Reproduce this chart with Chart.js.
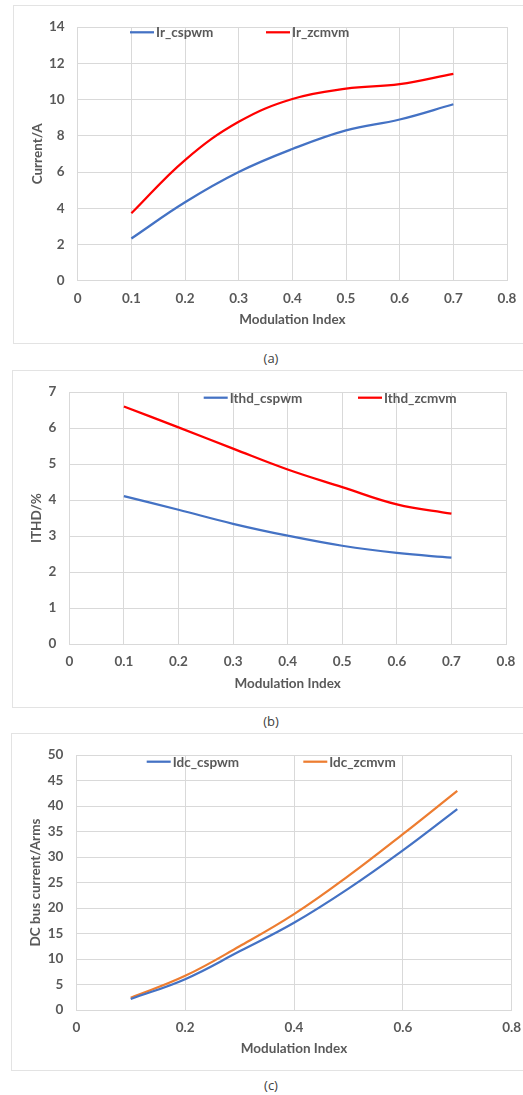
<!DOCTYPE html>
<html>
<head>
<meta charset="utf-8">
<script src="https://cdn.jsdelivr.net/npm/chart.js@4.4.1/dist/chart.umd.min.js"></script>
<style>
  html, body { margin: 0; padding: 0; background: #fff; width: 523px; height: 1095px; overflow: hidden; }
  .box { position: absolute; border: 1px solid #e3e3e3; width: 520px; }
  .box canvas { display: block; }
  .cap { position: absolute; width: 60px; margin-left: -30px; text-align: center;
         font: 13px "Open Sans", sans-serif; color: #404040; }
</style>
</head>
<body>
<div class="box" style="left:13px; top:5px;"><canvas id="chartA" width="520" height="337"></canvas></div>
<div class="cap" style="left:271px; top:349px;">(a)</div>
<div class="box" style="left:12px; top:370px;"><canvas id="chartB" width="520" height="336"></canvas></div>
<div class="cap" style="left:271px; top:712px;">(b)</div>
<div class="box" style="left:11px; top:733px;"><canvas id="chartC" width="520" height="336"></canvas></div>
<div class="cap" style="left:271px; top:1076px;">(c)</div>
<script>
// modulation index samples
const modIndex = [0.1, 0.2, 0.3, 0.4, 0.5, 0.6, 0.7];

// (a) phase current
const irCspwm = [2.33, 4.33, 6.0, 7.27, 8.3, 8.9, 9.74];
const irZcmvm = [3.72, 6.66, 8.77, 10.03, 10.6, 10.85, 11.42];

// (b) current THD
const ithdCspwm = [4.11, 3.73, 3.34, 3.01, 2.73, 2.53, 2.40];
const ithdZcmvm = [6.6, 6.02, 5.43, 4.85, 4.36, 3.88, 3.62];

// (c) DC bus current
const idcCspwm = [2.17, 6.05, 11.5, 17.1, 23.8, 31.3, 39.4];
const idcZcmvm = [2.4, 6.7, 12.5, 18.8, 26.3, 34.5, 43.0];

// tick labels
const xTicksAB = [0, 0.1, 0.2, 0.3, 0.4, 0.5, 0.6, 0.7, 0.8];
const xTicksC = [0, 0.2, 0.4, 0.6, 0.8];
const yTicksA = [0, 2, 4, 6, 8, 10, 12, 14];
const yTicksB = [0, 1, 2, 3, 4, 5, 6, 7];
const yTicksC = [0, 5, 10, 15, 20, 25, 30, 35, 40, 45, 50];

const BLUE = '#4472c4';
const RED = '#ff0000';
const ORANGE = '#ed7d31';
const TEXT = '#595959';
const GRID = '#d9d9d9';
const FONT = { family: "Lato, sans-serif", size: 13.5, weight: 'bold' };

// Excel-style legend drawn inside the plot area
const insideLegend = {
    id: 'insideLegend',
    afterDraw(chart, args, opts) {
        const ctx = chart.ctx;
        ctx.save();
        ctx.font = 'bold 13.5px Lato, sans-serif';
        ctx.fillStyle = TEXT;
        ctx.textBaseline = 'middle';
        chart.data.datasets.forEach((ds, i) => {
            const x = opts.x[i];
            ctx.strokeStyle = ds.borderColor;
            ctx.lineWidth = 2.25;
            ctx.beginPath();
            ctx.moveTo(x, opts.y);
            ctx.lineTo(x + 24, opts.y);
            ctx.stroke();
            ctx.fillText(ds.label, x + 26, opts.y + 0.5);
        });
        ctx.restore();
    }
};

function series(label, ys, color) {
    return {
        label,
        data: modIndex.map((x, i) => ({ x, y: ys[i] })),
        borderColor: color,
        backgroundColor: color,
        borderWidth: 2.25,
        pointRadius: 0,
        tension: 0.4,
        fill: false
    };
}

function makeChart(id, cfg) {
    return new Chart(document.getElementById(id), {
        type: 'line',
        data: { datasets: cfg.datasets },
        plugins: [insideLegend],
        options: {
            responsive: false,
            animation: false,
            layout: { padding: cfg.padding },
            plugins: {
                legend: { display: false },
                tooltip: { enabled: false },
                insideLegend: cfg.legend
            },
            scales: {
                x: {
                    type: 'linear',
                    min: 0,
                    max: 0.8,
                    afterBuildTicks: (s) => { s.ticks = cfg.xTicks.map(v => ({ value: v })); },
                    afterFit: (s) => { s.height = cfg.xHeight; },
                    grid: { color: GRID, lineWidth: 1, drawTicks: false },
                    border: { color: GRID },
                    ticks: { color: TEXT, font: FONT, padding: 10, maxRotation: 0, autoSkip: false,
                             callback: (v) => String(v) },
                    title: { display: true, text: 'Modulation Index', color: TEXT, font: FONT,
                             padding: { top: 0, bottom: cfg.xTitlePad } }
                },
                y: {
                    min: cfg.yTicks[0],
                    max: cfg.yTicks[cfg.yTicks.length - 1],
                    afterBuildTicks: (s) => { s.ticks = cfg.yTicks.map(v => ({ value: v })); },
                    afterFit: (s) => { s.width = cfg.yWidth; },
                    grid: { color: GRID, lineWidth: 1, drawTicks: false },
                    border: { color: GRID },
                    ticks: { color: TEXT, font: FONT, padding: 13, autoSkip: false },
                    title: { display: true, text: cfg.yTitle, color: TEXT, font: FONT,
                             padding: { top: 16, bottom: 0 } }
                }
            }
        }
    });
}

makeChart('chartA', {
    datasets: [series('Ir_cspwm', irCspwm, BLUE), series('Ir_zcmvm', irZcmvm, RED)],
    xTicks: xTicksAB, yTicks: yTicksA, yTitle: 'Current/A',
    padding: { left: 0, top: 14, right: 27, bottom: 10 },
    yWidth: 63.7, xHeight: 52.3, xTitlePad: 5,
    legend: { x: [116, 252], y: 26.3 }
});

makeChart('chartB', {
    datasets: [series('Ithd_cspwm', ithdCspwm, BLUE), series('Ithd_zcmvm', ithdZcmvm, RED)],
    xTicks: xTicksAB, yTicks: yTicksB, yTitle: 'ITHD/%',
    padding: { left: 0, top: 13.3, right: 27, bottom: 10 },
    yWidth: 56.3, xHeight: 53, xTitlePad: 5,
    legend: { x: [190.7, 345], y: 26.7 }
});

makeChart('chartC', {
    datasets: [series('Idc_cspwm', idcCspwm, BLUE), series('Idc_zcmvm', idcZcmvm, ORANGE)],
    xTicks: xTicksC, yTicks: yTicksC, yTitle: 'DC bus current/Arms',
    padding: { left: 0, top: 14.3, right: 20.3, bottom: 10 },
    yWidth: 64.3, xHeight: 50, xTitlePad: 3,
    legend: { x: [134.7, 291.3], y: 27.7 }
});
</script>
</body>
</html>
